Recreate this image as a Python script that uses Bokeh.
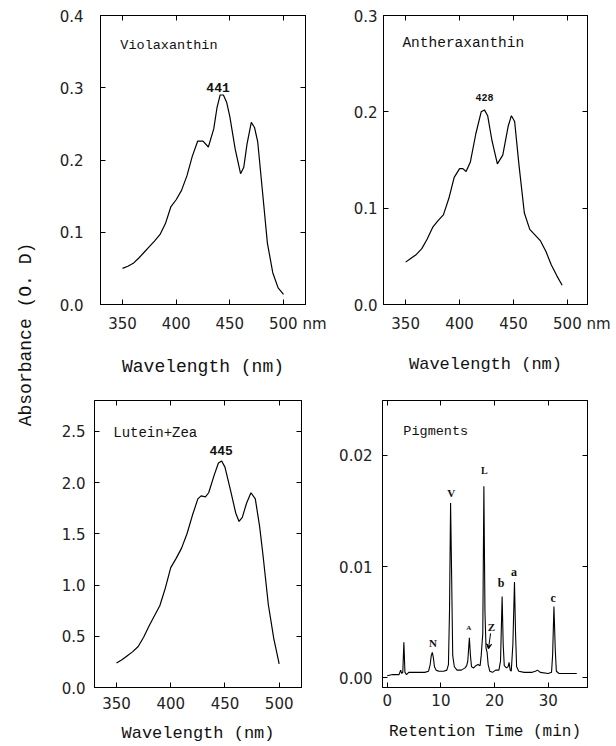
from math import pi
from bokeh.plotting import figure
from bokeh.models import (LinearAxis, Label, Range1d, FixedTicker, PrintfTickFormatter,
                          Arrow, VeeHead)
from bokeh.layouts import row, column
from bokeh.embed import file_html
from bokeh.resources import INLINE

# ---------------- data ----------------
viola_wl = [350, 355, 360, 365, 370, 375, 380, 385, 390, 395, 400, 405, 410, 415, 420, 425,
            430, 435, 438, 441, 444, 447, 450, 455, 460, 463, 466, 470, 473, 476, 480, 485,
            490, 495, 500]
viola_abs = [0.050, 0.053, 0.057, 0.064, 0.072, 0.080, 0.088, 0.097, 0.112, 0.135, 0.145,
             0.158, 0.178, 0.205, 0.226, 0.226, 0.218, 0.243, 0.272, 0.290, 0.290, 0.280,
             0.260, 0.215, 0.181, 0.190, 0.222, 0.252, 0.245, 0.225, 0.163, 0.085, 0.044,
             0.023, 0.014]

anth_wl = [350, 355, 360, 365, 370, 375, 380, 385, 390, 395, 400, 403, 406, 410, 415, 420,
           423, 426, 430, 435, 440, 445, 448, 451, 455, 460, 465, 470, 475, 480, 485, 490, 495]
anth_abs = [0.044, 0.048, 0.052, 0.058, 0.068, 0.080, 0.087, 0.093, 0.110, 0.132, 0.141,
            0.141, 0.138, 0.148, 0.177, 0.200, 0.202, 0.196, 0.170, 0.146, 0.155, 0.185,
            0.196, 0.190, 0.145, 0.095, 0.078, 0.072, 0.066, 0.055, 0.041, 0.030, 0.020]

lut_wl = [350, 355, 360, 365, 370, 375, 380, 385, 390, 395, 400, 405, 410, 415, 420, 425,
          428, 432, 435, 440, 444, 447, 450, 455, 460, 463, 466, 470, 474, 478, 482, 485,
          490, 495, 500]
lut_abs = [0.24, 0.27, 0.31, 0.35, 0.40, 0.49, 0.60, 0.70, 0.80, 0.97, 1.17, 1.26, 1.36,
           1.50, 1.68, 1.84, 1.87, 1.86, 1.90, 2.07, 2.19, 2.21, 2.15, 1.93, 1.70, 1.62,
           1.66, 1.80, 1.90, 1.84, 1.57, 1.30, 0.81, 0.48, 0.23]

rt_min = [0.0, 1.0, 2.2, 2.5, 2.7, 2.9, 3.1, 3.3, 3.6, 4.0, 5.0, 6.0, 7.0, 7.7, 8.0, 8.2,
          8.4, 8.6, 8.8, 9.1, 9.6, 10.5, 11.1, 11.4, 11.6, 11.8, 12.0, 12.2, 12.5, 13.0,
          13.8, 14.5, 14.8, 15.0, 15.3, 15.5, 15.7, 16.1, 16.5, 16.9, 17.3, 17.5, 17.65,
          17.8, 18.0, 18.2, 18.4, 18.6, 18.8, 19.1, 19.6, 20.2, 20.8, 21.1, 21.4, 21.6,
          21.8, 22.2, 22.5, 22.7, 22.9, 23.1, 23.4, 23.7, 23.9, 24.1, 24.5, 25.5, 27.0,
          27.6, 28.0, 28.5, 30.0, 30.6, 30.8, 31.05, 31.3, 31.5, 32.0, 35.3]
rt_signal = [0.0002, 0.0003, 0.0003, 0.0007, 0.0004, 0.0005, 0.0032, 0.0005, 0.0003,
             0.0005, 0.0005, 0.0005, 0.0005, 0.0006, 0.0012, 0.0020, 0.0023, 0.0018,
             0.0010, 0.0007, 0.0006, 0.0006, 0.0007, 0.0012, 0.0060, 0.0157, 0.0090,
             0.0020, 0.0010, 0.0007, 0.0007, 0.0009, 0.0011, 0.0015, 0.0036, 0.0020,
             0.0010, 0.0009, 0.0011, 0.0012, 0.0011, 0.0020, 0.0030, 0.0040, 0.0172,
             0.0060, 0.0027, 0.0023, 0.0012, 0.0006, 0.0005, 0.0007, 0.0007, 0.0015,
             0.0073, 0.0030, 0.0011, 0.0009, 0.0010, 0.0014, 0.0007, 0.0006, 0.0030,
             0.0086, 0.0040, 0.0010, 0.0006, 0.0005, 0.0005, 0.0006, 0.0007, 0.0005,
             0.0004, 0.0005, 0.0020, 0.0064, 0.0025, 0.0006, 0.0004, 0.0004]

peak_names = ["N", "V", "A", "L", "Z", "b", "a", "c"]
peak_x = [8.5, 11.9, 15.2, 18.1, 19.4, 21.2, 23.6, 30.9]
peak_y = [0.0031, 0.0166, 0.0045, 0.0186, 0.0046, 0.0085, 0.0095, 0.0072]
peak_size = ["11px", "11px", "7px", "10px", "11px", "12px", "12px", "12px"]

wl_ticks = [350, 400, 450, 500]
wl_last_label = "\u00a0" * 6 + "500 nm"   # "500" stays centred on its tick, "nm" follows
rt_ticks = [0, 10, 20, 30]

MONO = "Liberation Mono"
TICKF = "DejaVu Sans"


def style_axis(ax, ticks, fmt, standoff, show_labels=True):
    ax.ticker = FixedTicker(ticks=ticks)
    if fmt:
        ax.formatter = PrintfTickFormatter(format=fmt)
    ax.axis_line_color = "black"
    ax.major_tick_line_color = "black"
    ax.major_tick_in = 5
    ax.major_tick_out = 0
    ax.minor_tick_line_color = None
    ax.major_label_text_font = TICKF
    ax.major_label_standoff = standoff
    if show_labels:
        ax.major_label_text_font_size = "15px"
        ax.major_label_text_color = "#222222"
    else:
        ax.major_label_text_font_size = "0px"
        ax.major_label_text_color = None
        ax.major_label_standoff = 0


def panel(width, height, borders, xr, yr, xticks, yticks, xfmt, yfmt,
          xstand, ystand, xlabel, xlabel_size, xlabel_stand, x_overrides=None):
    l, r, t, b = borders
    p = figure(width=width, height=height, x_range=Range1d(*xr), y_range=Range1d(*yr),
               output_backend="svg", toolbar_location=None,
               min_border_left=l, min_border_right=r, min_border_top=t, min_border_bottom=b)
    p.grid.visible = False
    p.outline_line_color = "black"
    p.outline_line_width = 1
    p.background_fill_color = "white"
    p.border_fill_color = "white"
    xa = p.below[0]
    ya = p.left[0]
    style_axis(xa, xticks, xfmt, xstand)
    style_axis(ya, yticks, yfmt, ystand)
    if x_overrides:
        xa.major_label_overrides = x_overrides
    xa.axis_label = xlabel
    xa.axis_label_text_font = MONO
    xa.axis_label_text_font_style = "normal"
    xa.axis_label_text_font_size = xlabel_size
    xa.axis_label_text_color = "#111111"
    xa.axis_label_standoff = xlabel_stand
    top = LinearAxis()
    style_axis(top, xticks, None, 0, show_labels=False)
    p.add_layout(top, "above")
    right = LinearAxis()
    style_axis(right, yticks, None, 0, show_labels=False)
    p.add_layout(right, "right")
    return p


def txt(p, x, y, s, size, align="left", bold=False, font=MONO):
    p.add_layout(Label(x=x, y=y, text=s, text_font=font, text_font_size=size,
                       text_align=align, text_baseline="middle", text_color="#111111",
                       text_font_style="bold" if bold else "normal"))


# ---------------- panel 1: Violaxanthin ----------------
p1 = panel(280, 380, (47, 28, 15, 75), (329.5, 520.5), (0, 0.4), wl_ticks,
           [0.0, 0.1, 0.2, 0.3, 0.4], None, "%.1f", 10, 17, "Wavelength (nm)", "18px", 21,
           x_overrides={500: wl_last_label})
p1.line(viola_wl, viola_abs, line_color="black", line_width=1.2)
txt(p1, 348, 0.359, "Violaxanthin", "13.5px")
txt(p1, 439, 0.301, "441", "13px", align="center", bold=True)

# ---------------- panel 2: Antheraxanthin ----------------
p2 = panel(279, 380, (50, 25, 15, 76), (329.5, 518.5), (0, 0.3), wl_ticks,
           [0.0, 0.1, 0.2, 0.3], None, "%.1f", 10, 6, "Wavelength (nm)", "17px", 19,
           x_overrides={500: wl_last_label})
p2.line(anth_wl, anth_abs, line_color="black", line_width=1.2)
txt(p2, 347, 0.271, "Antheraxanthin", "14.5px")
txt(p2, 423, 0.215, "428", "10px", align="center", bold=True)

# ---------------- panel 3: Lutein+Zea ----------------
p3 = panel(280, 365, (41, 32, 17, 58), (329.7, 520.6), (0, 2.8), wl_ticks,
           [0.0, 0.5, 1.0, 1.5, 2.0, 2.5], None, "%.1f", 9, 9, "Wavelength (nm)", "17px", 12)
p3.line(lut_wl, lut_abs, line_color="black", line_width=1.2)
txt(p3, 347, 2.48, "Lutein+Zea", "14px")
txt(p3, 446.5, 2.31, "445", "13px", align="center", bold=True)

# ---------------- panel 4: Pigments chromatogram ----------------
p4 = panel(279, 365, (49, 25, 20, 56), (-0.88, 37.3), (-0.00086, 0.0249), rt_ticks,
           [0.0, 0.01, 0.02], "%d", "%.2f", 6, 10, "Retention Time (min)", "16px", 14)
p4.line(rt_min, rt_signal, line_color="black", line_width=1.1)
txt(p4, 3.0, 0.0221, "Pigments", "13.5px")
for nm_, xx, yy, fs in zip(peak_names, peak_x, peak_y, peak_size):
    p4.add_layout(Label(x=xx, y=yy, text=nm_, text_font="Liberation Serif",
                        text_font_size=fs, text_font_style="bold", text_align="center",
                        text_baseline="middle", text_color="#111111"))
p4.add_layout(Arrow(x_start=19.25, y_start=0.0040, x_end=18.85, y_end=0.0026,
                    line_color="black", line_width=1,
                    end=VeeHead(size=5, line_color="black", line_width=1)))

# ---------------- shared y label ----------------
LAB_H = 745
lab = figure(width=53, height=LAB_H, x_range=Range1d(0, 53), y_range=Range1d(0, LAB_H),
             output_backend="svg", toolbar_location=None, x_axis_type=None,
             y_axis_type=None, min_border=0)
lab.grid.visible = False
lab.outline_line_color = None
lab.add_layout(Label(x=25, y=LAB_H - 334, text="Absorbance (O. D)", angle=pi / 2,
                     text_font=MONO, text_font_size="18px", text_align="center",
                     text_baseline="middle", text_color="#111111"))

layout = row(lab, column(row(p1, p2), row(p3, p4)))

html = file_html(layout, INLINE, "Carotenoid spectra")
with open("out.html", "w") as f:
    f.write(html)
